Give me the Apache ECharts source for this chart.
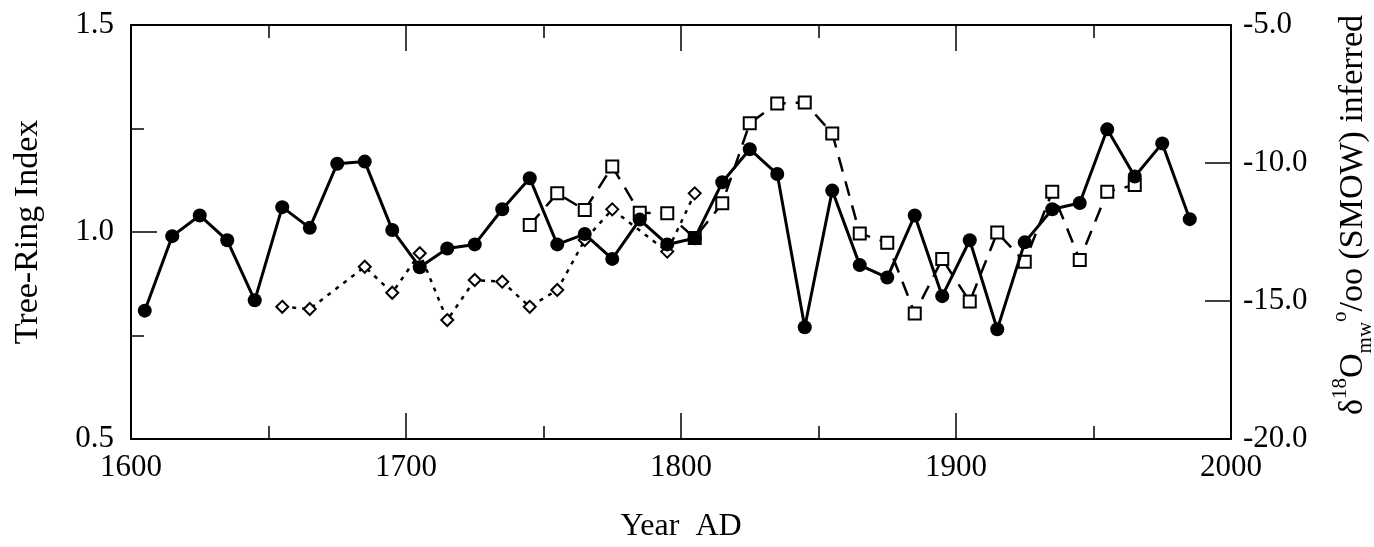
<!DOCTYPE html>
<html>
<head>
<meta charset="utf-8">
<script src="https://cdn.jsdelivr.net/npm/echarts@6/dist/echarts.min.js"></script>
<style>
html,body{margin:0;padding:0;background:#fff;}
#chart{width:1374px;height:547px;}
</style>
</head>
<body>
<div id="chart"></div>
<script>
// Tree-ring index (filled circles, left axis)
const ringYears = [1605,1615,1625,1635,1645,1655,1665,1675,1685,1695,1705,1715,1725,1735,1745,1755,1765,1775,1785,1795,1805,1815,1825,1835,1845,1855,1865,1875,1885,1895,1905,1915,1925,1935,1945,1955,1965,1975,1985];
const ringValues = [0.81,0.99,1.04,0.98,0.835,1.06,1.01,1.165,1.17,1.005,0.915,0.96,0.97,1.055,1.13,0.97,0.995,0.935,1.03,0.97,0.985,1.12,1.2,1.14,0.77,1.10,0.92,0.89,1.04,0.845,0.98,0.765,0.975,1.055,1.07,1.248,1.134,1.214,1.031];
// delta18O inferred (open squares, dashed, right axis)
const sqYears = [1745,1755,1765,1775,1785,1795,1805,1815,1825,1835,1845,1855,1865,1875,1885,1895,1905,1915,1925,1935,1945,1955,1965];
const sqValues = [-12.25,-11.1,-11.7,-10.13,-11.8,-11.82,-12.72,-11.46,-8.56,-7.84,-7.81,-8.93,-12.55,-12.89,-15.45,-13.48,-15.02,-12.52,-13.58,-11.04,-13.51,-11.04,-10.8];
// second delta18O series (open diamonds, dotted, right axis)
const dmYears = [1655,1665,1685,1695,1705,1715,1725,1735,1745,1755,1765,1775,1795,1805];
const dmValues = [-15.21,-15.29,-13.76,-14.7,-13.27,-15.69,-14.24,-14.3,-15.21,-14.6,-12.79,-11.68,-13.21,-11.1];
// axis ranges / labels
const xRange = [1600, 2000, 100];
const leftRange = [0.5, 1.5, 0.5];
const rightRange = [-20, -5, 5];
const xName = 'Year  AD';
const leftName = 'Tree-Ring Index';

const zip = (a, b) => a.map((v, i) => [v, b[i]]);
const FONT = 'Liberation Serif';
const BLACK = '#000';

const chart = echarts.init(document.getElementById('chart'), null, {renderer: 'canvas'});

const xCommon = {
  type: 'value', min: xRange[0], max: xRange[1], interval: xRange[2],
  axisLine: {show: true, lineStyle: {color: BLACK, width: 2}},
  axisTick: {show: true, inside: true, length: 26, lineStyle: {color: BLACK, width: 1.5}},
  minorTick: {show: true, splitNumber: 2, length: 13, lineStyle: {color: BLACK, width: 1.5}},
  splitLine: {show: false}, minorSplitLine: {show: false}
};

chart.setOption({
  backgroundColor: '#fff',
  animation: false,
  grid: {left: 131, right: 143, top: 25, bottom: 108, containLabel: false, outerBoundsMode: 'none'},
  xAxis: [
    Object.assign({}, xCommon, {
      position: 'bottom',
      name: xName, nameLocation: 'middle', nameGap: 72,
      nameTextStyle: {fontFamily: FONT, fontSize: 32, color: BLACK},
      axisLabel: {show: true, fontFamily: FONT, fontSize: 31, color: BLACK, margin: 13, formatter: v => String(v)}
    }),
    Object.assign({}, xCommon, {position: 'top', axisLabel: {show: false}})
  ],
  yAxis: [
    {
      type: 'value', position: 'left', min: leftRange[0], max: leftRange[1], interval: leftRange[2],
      name: leftName, nameLocation: 'middle', nameRotate: 90, nameGap: 86,
      nameTextStyle: {fontFamily: FONT, fontSize: 34, color: BLACK},
      axisLine: {show: true, lineStyle: {color: BLACK, width: 2}},
      axisTick: {show: true, inside: true, length: 26, lineStyle: {color: BLACK, width: 1.5}},
      minorTick: {show: true, splitNumber: 2, length: 13, lineStyle: {color: BLACK, width: 1.5}},
      axisLabel: {fontFamily: FONT, fontSize: 31, color: BLACK, margin: 17, formatter: v => v.toFixed(1)},
      splitLine: {show: false}
    },
    {
      type: 'value', position: 'right', min: rightRange[0], max: rightRange[1], interval: rightRange[2],
      name: '{a|δ}{s|18}{a|O}{b|mw}{s|o}{a|/oo (SMOW) inferred}',
      nameLocation: 'middle', nameRotate: 90, nameGap: 99,
      nameTextStyle: {
        fontFamily: FONT, fontSize: 34, color: BLACK, padding: [0, 0, 0, 34],
        rich: {
          a: {fontFamily: FONT, fontSize: 34, color: BLACK, lineHeight: 46, verticalAlign: 'middle'},
          s: {fontFamily: FONT, fontSize: 21, color: BLACK, lineHeight: 46, verticalAlign: 'top'},
          b: {fontFamily: FONT, fontSize: 21, color: BLACK, lineHeight: 46, verticalAlign: 'bottom'}
        }
      },
      axisLine: {show: true, lineStyle: {color: BLACK, width: 2}},
      axisTick: {show: true, inside: true, length: 26, lineStyle: {color: BLACK, width: 1.5}},
      minorTick: {show: false},
      axisLabel: {fontFamily: FONT, fontSize: 31, color: BLACK, margin: 12, formatter: v => v.toFixed(1)},
      splitLine: {show: false}
    }
  ],
  series: [
    {
      type: 'line', name: 'diamonds', xAxisIndex: 0, yAxisIndex: 1,
      data: zip(dmYears, dmValues),
      symbol: 'diamond', symbolSize: 12, showAllSymbol: true,
      lineStyle: {color: BLACK, width: 2.5, type: [4, 6]},
      itemStyle: {color: '#fff', borderColor: BLACK, borderWidth: 2},
      z: 2
    },
    {
      type: 'line', name: 'squares', xAxisIndex: 0, yAxisIndex: 1,
      data: zip(sqYears, sqValues),
      symbol: 'rect', symbolSize: 12, showAllSymbol: true,
      lineStyle: {color: BLACK, width: 2.5, type: [15, 10]},
      itemStyle: {color: '#fff', borderColor: BLACK, borderWidth: 2},
      z: 3
    },
    {
      type: 'line', name: 'ring', xAxisIndex: 0, yAxisIndex: 0,
      data: zip(ringYears, ringValues),
      symbol: 'circle', symbolSize: 14, showAllSymbol: true,
      lineStyle: {color: BLACK, width: 3},
      itemStyle: {color: BLACK, borderColor: BLACK, borderWidth: 0},
      z: 4
    }
  ]
});
</script>
</body>
</html>
